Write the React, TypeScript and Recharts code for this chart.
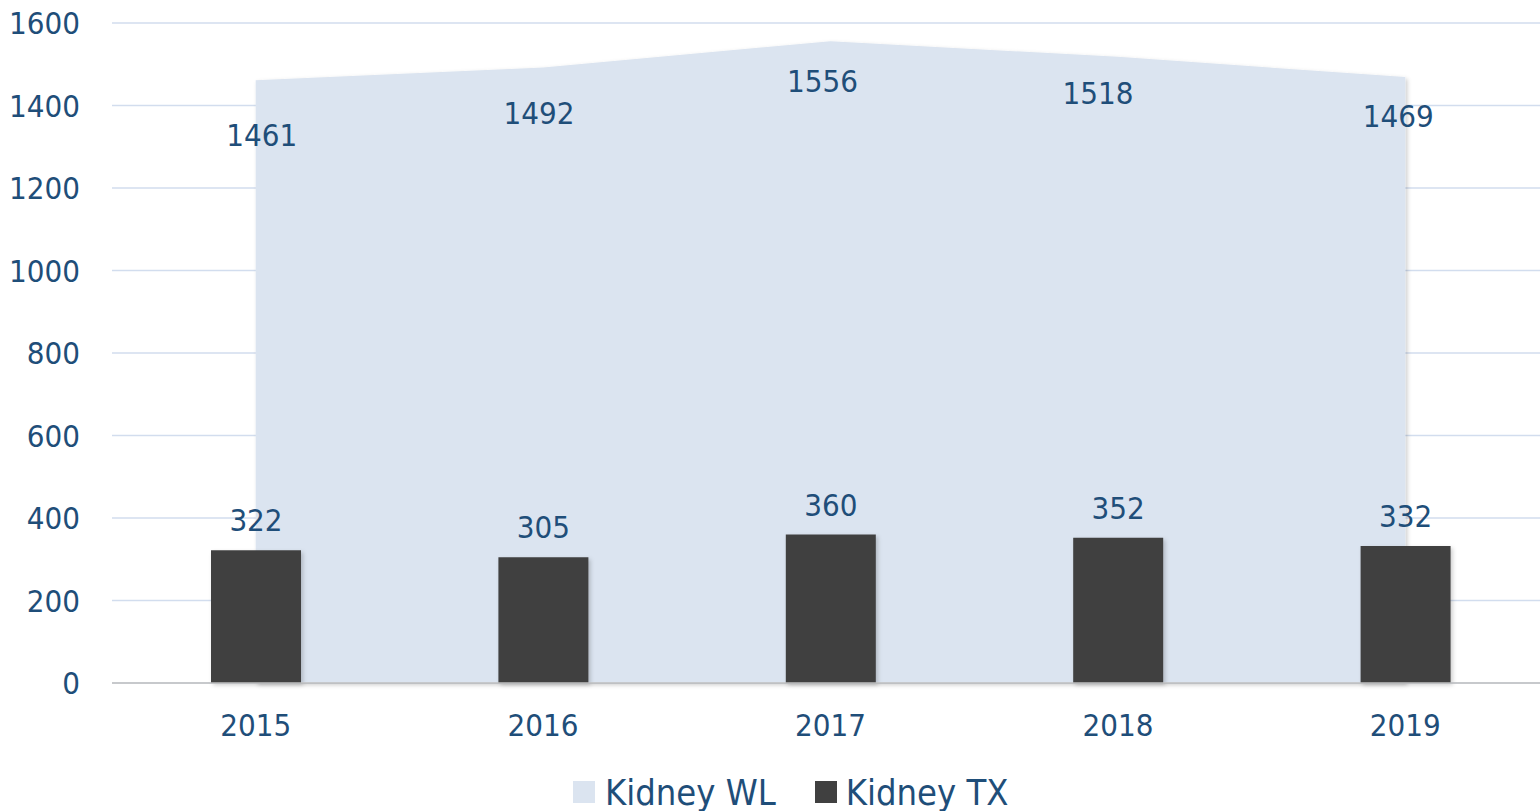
import React from 'react';
import {
  ComposedChart,
  Area,
  Bar,
  XAxis,
  YAxis,
  CartesianGrid,
  LabelList,
} from 'recharts';

const years = ['2015', '2016', '2017', '2018', '2019'];
const kidneyWL = [1461, 1492, 1556, 1518, 1469];
const kidneyTX = [322, 305, 360, 352, 332];
const yTicks = [0, 200, 400, 600, 800, 1000, 1200, 1400, 1600];

const data = years.map((year, i) => ({ year, wl: kidneyWL[i], tx: kidneyTX[i] }));

// Excel put the area labels in slightly uneven spots under the line
const wlLabelShift = [
  [6, 55],
  [-4, 45],
  [-8, 40],
  [-20, 36],
  [-7, 39],
];

const font = '"DejaVu Sans Condensed", "DejaVu Sans", sans-serif';
const navy = '#1F4E79';
const wlColor = '#DBE4F0';
const txColor = '#404040';
const fs = 31;

const YTick = ({ x, y, payload }: any) => (
  <text x={x} y={y} textAnchor="end" dominantBaseline="central" fill={navy} fontSize={fs} fontFamily={font}>
    {payload.value}
  </text>
);

const XTick = ({ x, y, payload }: any) => (
  <text x={x} y={y} textAnchor="middle" dominantBaseline="central" fill={navy} fontSize={fs} fontFamily={font}>
    {payload.value}
  </text>
);

const WLLabel = ({ x, y, value, index }: any) => {
  const [dx, dy] = wlLabelShift[index] || [0, 40];
  return (
    <text x={x + dx} y={y + dy} textAnchor="middle" dominantBaseline="central" fill={navy} fontSize={fs} fontFamily={font}>
      {value}
    </text>
  );
};

const TXLabel = ({ x, y, width, value }: any) => (
  <text x={x + width / 2} y={y - 30} textAnchor="middle" dominantBaseline="central" fill={navy} fontSize={fs} fontFamily={font}>
    {value}
  </text>
);

const ChartLegend = () => (
  <div
    style={{
      position: 'absolute',
      left: 573,
      top: 772,
      height: 40,
      display: 'flex',
      alignItems: 'center',
      fontFamily: font,
      fontSize: 36,
      color: navy,
      whiteSpace: 'nowrap',
    }}
  >
    <span style={{ width: 22, height: 22, background: wlColor, display: 'inline-block', marginRight: 10 }} />
    <span style={{ marginRight: 39 }}>Kidney WL</span>
    <span style={{ width: 22, height: 22, background: txColor, display: 'inline-block', marginRight: 9 }} />
    <span>Kidney TX</span>
  </div>
);

export default function App() {
  return (
    <div style={{ position: 'fixed', left: 0, top: 0, width: 1540, height: 811, overflow: 'hidden', background: '#fff' }}>
      <ComposedChart
        width={1560}
        height={811}
        data={data}
        margin={{ top: 23, right: 11, left: 0, bottom: 98 }}
        barSize={90}
      >
        <defs>
          <filter id="shadow" x="-10%" y="-10%" width="130%" height="130%">
            <feDropShadow dx="2" dy="2" stdDeviation="2" floodColor="#000" floodOpacity="0.2" />
          </filter>
        </defs>
        <CartesianGrid vertical={false} stroke="#D2DDEE" strokeWidth={1.5} />
        <XAxis
          dataKey="year"
          height={30}
          tick={<XTick />}
          tickLine={false}
          tickSize={0}
          tickMargin={42}
          axisLine={{ stroke: '#BFBFBF', strokeWidth: 1.5 }}
        />
        <YAxis
          width={112}
          domain={[0, 1600]}
          ticks={yTicks}
          tick={<YTick />}
          tickLine={false}
          tickSize={0}
          tickMargin={32}
          axisLine={false}
        />
        <Area
          dataKey="wl"
          name="Kidney WL"
          type="linear"
          fill={wlColor}
          fillOpacity={1}
          stroke="none"
          filter="url(#shadow)"
          isAnimationActive={false}
        >
          <LabelList dataKey="wl" content={<WLLabel />} />
        </Area>
        <Bar dataKey="tx" name="Kidney TX" fill={txColor} filter="url(#shadow)" isAnimationActive={false}>
          <LabelList dataKey="tx" content={<TXLabel />} />
        </Bar>
      </ComposedChart>
      <ChartLegend />
    </div>
  );
}
